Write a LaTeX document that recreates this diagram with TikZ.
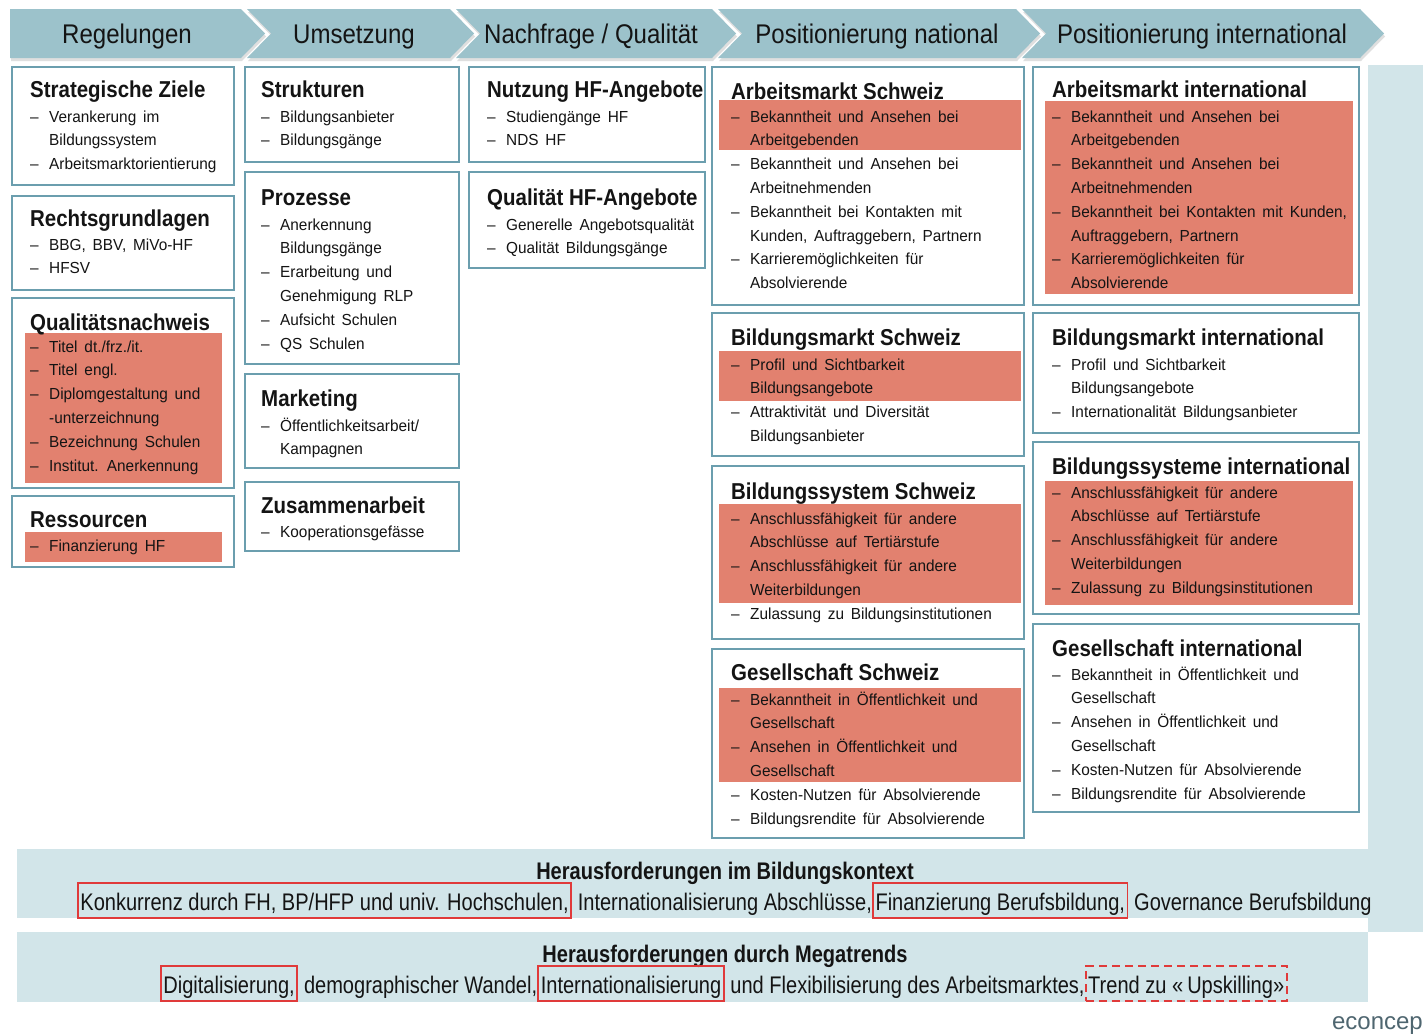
\documentclass[tikz,border=0pt]{standalone}
\usepackage{fontspec}
\setmainfont{Liberation Sans}
\newfontfamily\fhead{Liberation Sans}[FakeStretch=0.89]
\newfontfamily\fitem{Liberation Sans}[FakeStretch=0.96,WordSpace=1.6]
\newfontfamily\fband{Liberation Sans}[FakeStretch=0.835]
\usetikzlibrary{fit}
\definecolor{chev}{HTML}{9CC2CB}
\definecolor{pale}{HTML}{D2E5E9}
\definecolor{frame}{HTML}{6B9EAE}
\definecolor{hlred}{HTML}{E2816F}
\definecolor{mark}{HTML}{E03A3A}
\definecolor{txt}{HTML}{141414}
\definecolor{logo}{HTML}{4F6670}
\tikzset{
 boxf/.style={draw=frame, line width=2pt, fill=white, inner sep=0pt},
 hlf/.style={fill=hlred, inner sep=0pt},
 hdr/.style={font=\fhead\fontsize{27}{30}\selectfont, text=txt, anchor=base, inner sep=0pt},
 ttl/.style={font=\fhead\bfseries\fontsize{23}{26}\selectfont, text=txt, anchor=base west, inner sep=0pt},
 itm/.style={font=\fitem\fontsize{16}{18}\selectfont, text=txt, anchor=base west, inner sep=0pt},
 bnd/.style={font=\fband\fontsize{24}{28}\selectfont, text=txt, anchor=base west, inner xsep=0pt, inner ysep=1pt, text height=26pt, text depth=7pt},
 bndt/.style={font=\fband\bfseries\fontsize{24}{28}\selectfont, text=txt, anchor=base, inner sep=0pt},
 mk/.style={draw=mark, line width=1.8pt, inner xsep=2.5pt},
}
\newcommand\bx[5]{\node[boxf, fit={(#2,#3) (#4,#5)}] (#1) {};}
\newcommand\hl[5]{\node[hlf, fit={(#2,#3) (#4,#5)}] (#1) {};}
\newcommand\ttlnode[4]{\node[ttl] (#1) at (#2,#3) {#4};}
\newcommand\itemlist[4]{%
  \foreach [count=\k] \itxt/\iflag in {#4} {%
    \pgfmathsetmacro\yy{#3+(\k-1)*23.8}%
    \ifnum\iflag=1\relax
      \node[itm] (#1-\k) at (#2,\yy) {\makebox[19pt][l]{–}\itxt};
    \else
      \node[itm] (#1-\k) at (#2+19,\yy) {\itxt};
    \fi
  }%
}
\begin{document}
\begin{tikzpicture}[x=1pt,y=-1pt]
\useasboundingbox (0,0) rectangle (1423,1034);
\fill[white] (0,0) rectangle (1423,1034);
% background bands
\fill[pale] (1368,65) rectangle (1423,932);
\fill[pale] (17,849) rectangle (1368,918);
\fill[pale] (17,932) rectangle (1368,1002);
% chevron shadows
\begin{scope}[shift={(1,3)}]
\fill[gray!25] (10,9) -- (241,9) -- (265,33.5) -- (241,58) -- (10,58) -- cycle;
\fill[gray!25] (247,9) -- (450,9) -- (474,33.5) -- (450,58) -- (247,58) -- (271,33.5) -- cycle;
\fill[gray!25] (456,9) -- (712,9) -- (736,33.5) -- (712,58) -- (456,58) -- (480,33.5) -- cycle;
\fill[gray!25] (718,9) -- (1016,9) -- (1040,33.5) -- (1016,58) -- (718,58) -- (742,33.5) -- cycle;
\fill[gray!25] (1022,9) -- (1360,9) -- (1384,33.5) -- (1360,58) -- (1022,58) -- (1046,33.5) -- cycle;
\end{scope}
% chevrons
\fill[chev] (10,9) -- (241,9) -- (265,33.5) -- (241,58) -- (10,58) -- cycle;
\fill[chev] (247,9) -- (450,9) -- (474,33.5) -- (450,58) -- (247,58) -- (271,33.5) -- cycle;
\fill[chev] (456,9) -- (712,9) -- (736,33.5) -- (712,58) -- (456,58) -- (480,33.5) -- cycle;
\fill[chev] (718,9) -- (1016,9) -- (1040,33.5) -- (1016,58) -- (718,58) -- (742,33.5) -- cycle;
\fill[chev] (1022,9) -- (1360,9) -- (1384,33.5) -- (1360,58) -- (1022,58) -- (1046,33.5) -- cycle;
\node[hdr] (h1) at (127,43) {Regelungen};
\node[hdr] (h2) at (354,43) {Umsetzung};
\node[hdr] (h3) at (591,43) {Nachfrage / Qualität};
\node[hdr] (h4) at (877,43) {Positionierung national};
\node[hdr] (h5) at (1202,43) {Positionierung international};
% ---- column 1
\bx{sz}{12}{67}{234}{185}
\ttlnode{szt}{30}{97}{Strategische Ziele}
\itemlist{sz}{30}{122}{{Verankerung im}/1,{Bildungssystem}/0,{Arbeitsmarktorientierung}/1}
\bx{rg}{12}{196}{234}{290}
\ttlnode{rgt}{30}{226}{Rechtsgrundlagen}
\itemlist{rg}{30}{250}{{BBG, BBV, MiVo-HF}/1,{HFSV}/1}
\bx{qn}{12}{298}{234}{488}
\hl{qnh}{25}{333}{222}{483}
\ttlnode{qnt}{30}{330}{Qualitätsnachweis}
\itemlist{qn}{30}{352}{{Titel dt./frz./it.}/1,{Titel engl.}/1,{Diplomgestaltung und}/1,{-unterzeichnung}/0,{Bezeichnung Schulen}/1,{Institut. Anerkennung}/1}
\bx{rs}{12}{496}{234}{567}
\hl{rsh}{25}{532}{222}{562}
\ttlnode{rst}{30}{527}{Ressourcen}
\itemlist{rs}{30}{551}{{Finanzierung HF}/1}
% ---- column 2
\bx{st}{245}{67}{459}{162}
\ttlnode{stt}{261}{97}{Strukturen}
\itemlist{st}{261}{122}{{Bildungsanbieter}/1,{Bildungsgänge}/1}
\bx{pz}{245}{172}{459}{364}
\ttlnode{pzt}{261}{205}{Prozesse}
\itemlist{pz}{261}{230}{{Anerkennung}/1,{Bildungsgänge}/0,{Erarbeitung und}/1,{Genehmigung RLP}/0,{Aufsicht Schulen}/1,{QS Schulen}/1}
\bx{mkt}{245}{374}{459}{468}
\ttlnode{mktt}{261}{406}{Marketing}
\itemlist{mkt}{261}{431}{{Öffentlichkeitsarbeit/}/1,{Kampagnen}/0}
\bx{za}{245}{482}{459}{551}
\ttlnode{zat}{261}{513}{Zusammenarbeit}
\itemlist{za}{261}{537}{{Kooperationsgefässe}/1}
% ---- column 3
\bx{nu}{469}{67}{705}{162}
\ttlnode{nut}{487}{97}{Nutzung HF-Angebote}
\itemlist{nu}{487}{122}{{Studiengänge HF}/1,{NDS HF}/1}
\bx{qu}{469}{172}{705}{268}
\ttlnode{qut}{487}{205}{Qualität HF-Angebote}
\itemlist{qu}{487}{230}{{Generelle Angebotsqualität}/1,{Qualität Bildungsgänge}/1}
% ---- column 4
\bx{as}{712}{67}{1024}{305}
\hl{ash}{719}{100}{1021}{150}
\ttlnode{ast}{731}{99}{Arbeitsmarkt Schweiz}
\itemlist{as}{731}{122}{{Bekanntheit und Ansehen bei}/1,{Arbeitgebenden}/0,{Bekanntheit und Ansehen bei}/1,{Arbeitnehmenden}/0,{Bekanntheit bei Kontakten mit}/1,{Kunden, Auftraggebern, Partnern}/0,{Karrieremöglichkeiten für}/1,{Absolvierende}/0}
\bx{bs}{712}{313}{1024}{456}
\hl{bsh}{719}{351}{1021}{401}
\ttlnode{bst}{731}{345}{Bildungsmarkt Schweiz}
\itemlist{bs}{731}{370}{{Profil und Sichtbarkeit}/1,{Bildungsangebote}/0,{Attraktivität und Diversität}/1,{Bildungsanbieter}/0}
\bx{bsy}{712}{466}{1024}{639}
\hl{bsyh}{719}{504}{1021}{603}
\ttlnode{bsyt}{731}{499}{Bildungssystem Schweiz}
\itemlist{bsy}{731}{524}{{Anschlussfähigkeit für andere}/1,{Abschlüsse auf Tertiärstufe}/0,{Anschlussfähigkeit für andere}/1,{Weiterbildungen}/0,{Zulassung zu Bildungsinstitutionen}/1}
\bx{gs}{712}{649}{1024}{838}
\hl{gsh}{719}{688}{1021}{782}
\ttlnode{gst}{731}{680}{Gesellschaft Schweiz}
\itemlist{gs}{731}{705}{{Bekanntheit in Öffentlichkeit und}/1,{Gesellschaft}/0,{Ansehen in Öffentlichkeit und}/1,{Gesellschaft}/0,{Kosten-Nutzen für Absolvierende}/1,{Bildungsrendite für Absolvierende}/1}
% ---- column 5
\bx{ai}{1033}{67}{1359}{305}
\hl{aih}{1045}{101}{1353}{294}
\ttlnode{ait}{1052}{97}{Arbeitsmarkt international}
\itemlist{ai}{1052}{122}{{Bekanntheit und Ansehen bei}/1,{Arbeitgebenden}/0,{Bekanntheit und Ansehen bei}/1,{Arbeitnehmenden}/0,{Bekanntheit bei Kontakten mit Kunden,}/1,{Auftraggebern, Partnern}/0,{Karrieremöglichkeiten für}/1,{Absolvierende}/0}
\bx{bi}{1033}{313}{1359}{433}
\ttlnode{bit}{1052}{345}{Bildungsmarkt international}
\itemlist{bi}{1052}{370}{{Profil und Sichtbarkeit}/1,{Bildungsangebote}/0,{Internationalität Bildungsanbieter}/1}
\bx{bsi}{1033}{442}{1359}{614}
\hl{bsih}{1045}{481}{1353}{605}
\ttlnode{bsit}{1052}{474}{Bildungssysteme international}
\itemlist{bsi}{1052}{498}{{Anschlussfähigkeit für andere}/1,{Abschlüsse auf Tertiärstufe}/0,{Anschlussfähigkeit für andere}/1,{Weiterbildungen}/0,{Zulassung zu Bildungsinstitutionen}/1}
\bx{gi}{1033}{624}{1359}{812}
\ttlnode{git}{1052}{656}{Gesellschaft international}
\itemlist{gi}{1052}{680}{{Bekanntheit in Öffentlichkeit und}/1,{Gesellschaft}/0,{Ansehen in Öffentlichkeit und}/1,{Gesellschaft}/0,{Kosten-Nutzen für Absolvierende}/1,{Bildungsrendite für Absolvierende}/1}
% ---- bottom bands
\node[bndt] (b1t) at (725,879) {Herausforderungen im Bildungskontext};
\node[bnd, mk] (k1) at (77,910) {Konkurrenz durch FH, BP/HFP und univ. Hochschulen,};
\node[bnd] (k2) at (k1.base east) {\ Internationalisierung Abschlüsse,};
\node[bnd, mk] (k3) at (k2.base east) {Finanzierung Berufsbildung,};
\node[bnd] (k4) at (k3.base east) {\ Governance Berufsbildung};
\node[bndt] (b2t) at (725,962) {Herausforderungen durch Megatrends};
\node[bnd, mk] (d1) at (160,993) {Digitalisierung,};
\node[bnd] (d2) at (d1.base east) {\ demographischer Wandel,};
\node[bnd, mk] (d3) at (d2.base east) {Internationalisierung};
\node[bnd] (d4) at (d3.base east) {\ und Flexibilisierung des Arbeitsmarktes,};
\node[bnd, mk, dashed, dash pattern=on 8pt off 5pt] (d5) at (d4.base east) {Trend zu «\,Upskilling»};
\node[font=\fontsize{24}{28}\selectfont, text=logo, anchor=base east, inner sep=0pt] (logo) at (1423,1029) {econcep};
\end{tikzpicture}
\end{document}
